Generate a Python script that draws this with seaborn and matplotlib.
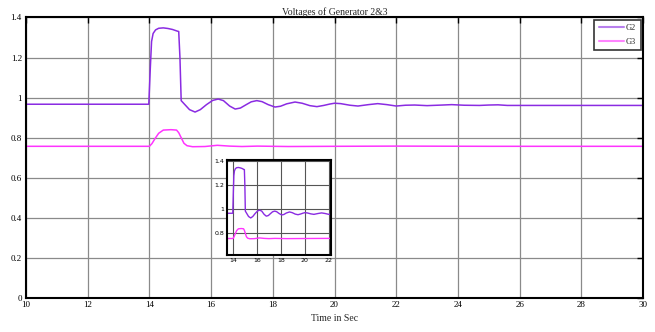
import matplotlib
matplotlib.use("Agg")
import matplotlib.pyplot as plt
import seaborn as sns
import pandas as pd
from matplotlib.ticker import FuncFormatter

# ---- data ----
g2_time = [10, 13.98, 14.03, 14.07, 14.12, 14.2, 14.3, 14.45, 14.6, 14.75, 14.9, 14.95, 14.99, 15.03,
           15.15, 15.3, 15.48, 15.65, 15.85, 16.05, 16.23, 16.4, 16.6, 16.78, 16.95, 17.15, 17.3,
           17.48, 17.65, 17.85, 18.07, 18.25, 18.45, 18.72, 18.95, 19.2, 19.43, 19.65, 19.85,
           20.0, 20.2, 20.5, 20.76, 21.1, 21.4, 21.7, 22.0, 22.3, 22.6, 23.0, 23.5, 23.8, 24.2,
           24.7, 25.0, 25.3, 25.6, 30]
g2_volt = [0.967, 0.967, 1.15, 1.28, 1.32, 1.338, 1.346, 1.348, 1.345, 1.34, 1.332, 1.33, 1.2, 0.985,
           0.965, 0.94, 0.928, 0.94, 0.965, 0.986, 0.993, 0.985, 0.958, 0.943, 0.948, 0.966, 0.979,
           0.985, 0.98, 0.965, 0.953, 0.957, 0.969, 0.978, 0.972, 0.96, 0.955, 0.961, 0.968,
           0.972, 0.97, 0.962, 0.958, 0.965, 0.97, 0.965, 0.958, 0.962, 0.963, 0.96, 0.963, 0.965, 0.962,
           0.961, 0.963, 0.964, 0.961, 0.961]
g3_time = [10, 14.0, 14.08, 14.18, 14.3, 14.45, 14.7, 14.88, 14.95, 15.03, 15.12, 15.22, 15.4,
           15.8, 16.2, 16.6, 17.0, 17.5, 18.5, 20, 22, 25, 30]
g3_volt = [0.757, 0.757, 0.77, 0.795, 0.822, 0.838, 0.84, 0.838, 0.825, 0.8, 0.772, 0.76, 0.755,
           0.756, 0.762, 0.758, 0.756, 0.758, 0.756, 0.757, 0.758, 0.757, 0.757]
series_names = ["G2", "G3"]
series_colors = ["#8a2be2", "#ff33ff"]
title = "Voltages of Generator 2&3"
xlabel = "Time in Sec"
main_xticks = [10, 12, 14, 16, 18, 20, 22, 24, 26, 28, 30]
main_yticks = [0, 0.2, 0.4, 0.6, 0.8, 1.0, 1.2, 1.4]
inset_xticks = [14, 16, 18, 20, 22]
inset_yticks = [0.8, 1.0, 1.2, 1.4]

df = pd.concat([
    pd.DataFrame({"time": g2_time, "volt": g2_volt, "series": series_names[0]}),
    pd.DataFrame({"time": g3_time, "volt": g3_volt, "series": series_names[1]}),
], ignore_index=True)
palette = dict(zip(series_names, series_colors))

sns.set_theme(style="white")
plt.rcParams["font.family"] = ["Liberation Serif", "DejaVu Serif"]

fig = plt.figure(figsize=(6.55, 3.32), dpi=100)
ax = fig.add_axes([0.0397, 0.1024, 0.942, 0.845])

sns.lineplot(data=df, x="time", y="volt", hue="series", palette=palette, ax=ax,
             linewidth=1.1, estimator=None, sort=False)

gfmt = FuncFormatter(lambda v, p: f"{v:g}")
ax.set_xlim(10, 30)
ax.set_ylim(0, 1.4)
ax.set_xticks(main_xticks)
ax.set_yticks(main_yticks)
ax.yaxis.set_major_formatter(gfmt)
ax.xaxis.set_major_formatter(gfmt)
ax.grid(True, color="#8a8a8a", linewidth=0.9)
ax.tick_params(direction="in", top=True, right=True, length=4, width=1, labelsize=6.5,
               pad=2, colors="black")
ax.tick_params(axis="y", pad=3)
for s in ax.spines.values():
    s.set_color("black")
    s.set_linewidth(1.5)
ax.set_title(title, fontsize=7, pad=2)
ax.set_xlabel(xlabel, fontsize=7, labelpad=4)
ax.set_ylabel("")
leg = ax.legend(loc="upper right", fontsize=6, frameon=True, fancybox=False,
                handlelength=3, handletextpad=0.3, borderpad=0.5, labelspacing=0.7,
                borderaxespad=0.3)
leg.get_frame().set_edgecolor("black")
leg.get_frame().set_linewidth(1.2)
for l in leg.get_lines():
    l.set_alpha(0.6)
    l.set_linewidth(1.5)

# inset
axi = fig.add_axes([0.3466, 0.232, 0.159, 0.286])
sns.lineplot(data=df, x="time", y="volt", hue="series", palette=palette, ax=axi,
             linewidth=1.0, estimator=None, sort=False, legend=False)
axi.set_xlim(13.5, 22.2)
axi.set_ylim(0.62, 1.41)
axi.set_xticks(inset_xticks)
axi.set_yticks(inset_yticks)
axi.yaxis.set_major_formatter(gfmt)
axi.xaxis.set_major_formatter(gfmt)
axi.grid(True, color="#555555", linewidth=0.8)
axi.tick_params(direction="in", length=2, labelsize=4.5, pad=2, colors="black")
for lab in axi.get_xticklabels() + axi.get_yticklabels():
    lab.set_family(["DejaVu Sans"])
for s in axi.spines.values():
    s.set_color("black")
    s.set_linewidth(1.5)
axi.set_xlabel("")
axi.set_ylabel("")
axi.set_facecolor("white")

fig.savefig("out.png", dpi=100)
